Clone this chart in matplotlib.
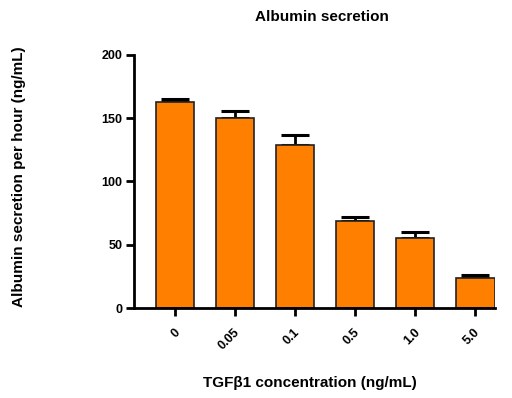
import numpy as np
import matplotlib.pyplot as plt
import matplotlib.transforms as mtransforms

plt.rcParams['font.family'] = ['Liberation Sans', 'DejaVu Sans']
plt.rcParams['font.weight'] = 'bold'

doses = ["0", "0.05", "0.1", "0.5", "1.0", "5.0"]
secretion = [162.5, 150.5, 129, 69, 55, 23.5]
sem = [2.5, 5, 8, 3, 5, 3]

fig = plt.figure(figsize=(5.12, 3.98), dpi=100)
ax = fig.add_axes([0.262, 0.226, 0.705, 0.636])

x = np.arange(len(doses))
ax.bar(x, secretion, width=0.64, color="#FF8000", edgecolor="#222222", linewidth=1.2, zorder=2)
ax.errorbar(x, secretion, yerr=[np.zeros(len(sem)), sem], fmt="none", ecolor="black",
            elinewidth=2, capsize=10, capthick=2.2, zorder=1)

ax.set_xlim(-0.68, 5.33)
ax.set_ylim(0, 200)
ax.set_yticks([0, 50, 100, 150, 200])
ax.set_xticks(x)
ax.set_xticklabels(doses, rotation=45, ha="right", va="center", rotation_mode="anchor")
ax.tick_params(axis="both", width=2, length=5.5, labelsize=9)
ax.tick_params(axis="x", pad=10)
ax.tick_params(axis="y", pad=3)

# nudge the rotated labels a little to the right
offset = mtransforms.ScaledTranslation(3 / 100, -1 / 100, fig.dpi_scale_trans)
for lab in ax.get_xticklabels():
    lab.set_transform(lab.get_transform() + offset)

for s in ["top", "right"]:
    ax.spines[s].set_visible(False)
for s in ["left", "bottom"]:
    ax.spines[s].set_linewidth(2)

fig.text(322 / 512, 1 - 17 / 398, "Albumin secretion", fontsize=11, fontweight="bold",
         ha="center", va="center")
ax.set_xlabel("TGFβ1 concentration (ng/mL)", fontsize=11, fontweight="bold")
ax.xaxis.set_label_coords(0.488, -0.27)
ax.set_ylabel("Albumin secretion per hour (ng/mL)", fontsize=11, fontweight="bold")
ax.yaxis.set_label_coords(-0.30, 0.52)

fig.savefig("out.png", dpi=100)
